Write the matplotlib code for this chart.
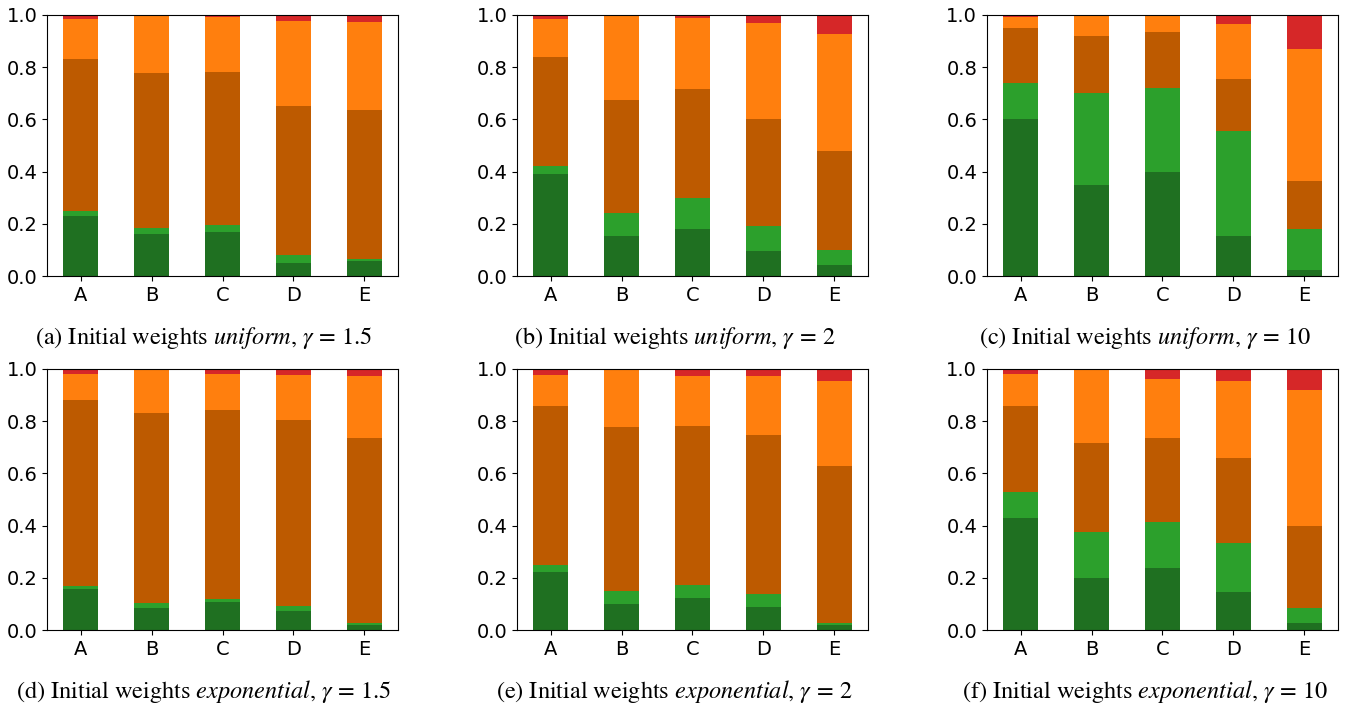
import numpy as np
import matplotlib
matplotlib.use('Agg')
import matplotlib.pyplot as plt

# Categorias e legendas dos paineis
categories = ['A', 'B', 'C', 'D', 'E']
captions = [
    r'(a) Initial weights $\mathit{uniform}$, $\gamma\,=\,1.5$',
    r'(b) Initial weights $\mathit{uniform}$, $\gamma\,=\,2$',
    r'(c) Initial weights $\mathit{uniform}$, $\gamma\,=\,10$',
    r'(d) Initial weights $\mathit{exponential}$, $\gamma\,=\,1.5$',
    r'(e) Initial weights $\mathit{exponential}$, $\gamma\,=\,2$',
    r'(f) Initial weights $\mathit{exponential}$, $\gamma\,=\,10$',
]

# Topo acumulado de cada camada (verde escuro, verde, laranja escuro, laranja), por painel
dark_green_top = [
    [0.230, 0.161, 0.168, 0.050, 0.057],
    [0.390, 0.153, 0.180, 0.096, 0.042],
    [0.601, 0.348, 0.398, 0.152, 0.023],
    [0.157, 0.084, 0.107, 0.073, 0.019],
    [0.222, 0.099, 0.122, 0.088, 0.019],
    [0.429, 0.199, 0.237, 0.145, 0.027],
]
green_top = [
    [0.249, 0.185, 0.194, 0.080, 0.065],
    [0.422, 0.241, 0.300, 0.193, 0.101],
    [0.739, 0.700, 0.721, 0.555, 0.180],
    [0.168, 0.103, 0.121, 0.092, 0.029],
    [0.249, 0.149, 0.172, 0.138, 0.029],
    [0.528, 0.375, 0.413, 0.334, 0.084],
]
dark_orange_top = [
    [0.830, 0.777, 0.781, 0.651, 0.635],
    [0.838, 0.673, 0.716, 0.601, 0.478],
    [0.949, 0.918, 0.934, 0.754, 0.364],
    [0.880, 0.830, 0.842, 0.804, 0.735],
    [0.857, 0.777, 0.781, 0.746, 0.628],
    [0.857, 0.716, 0.735, 0.658, 0.398],
]
orange_top = [
    [0.983, 0.999, 0.991, 0.976, 0.972],
    [0.983, 0.999, 0.987, 0.968, 0.926],
    [0.991, 0.999, 0.999, 0.964, 0.869],
    [0.980, 0.996, 0.980, 0.976, 0.972],
    [0.977, 0.996, 0.972, 0.972, 0.953],
    [0.980, 0.996, 0.960, 0.953, 0.918],
]

colors = ['#1f7021', '#2ca02c', '#bd5a00', '#ff7f0e', '#d62728']

plt.rcParams['font.family'] = 'DejaVu Sans'
plt.rcParams['mathtext.fontset'] = 'stix'

fig = plt.figure(figsize=(13.47, 7.08), dpi=100)

col_left = [0.0349, 0.3838, 0.7327]
row_bottom = [0.610, 0.110]
caption_x = [0.151, 0.501, 0.850]
caption_y = [0.523, 0.023]

x = np.arange(len(categories))
for i in range(6):
    r, c = divmod(i, 3)
    ax = fig.add_axes([col_left[c], row_bottom[r], 0.2606, 0.369])
    # limites acumulados -> alturas de cada camada
    bounds = np.vstack([np.zeros(5), dark_green_top[i], green_top[i],
                        dark_orange_top[i], orange_top[i], np.ones(5)])
    heights = np.diff(bounds, axis=0)
    for k in range(5):
        ax.bar(x, heights[k], width=0.5, bottom=bounds[k], color=colors[k])
    ax.set_ylim(0, 1.0)
    ax.set_xticks(x)
    ax.set_xticklabels(categories)
    ax.tick_params(labelsize=14)
    fig.text(caption_x[c], caption_y[r], captions[i], ha='center', va='center',
             fontsize=17.5, family='STIXGeneral')

plt.savefig('out.png', dpi=100)
plt.close()
